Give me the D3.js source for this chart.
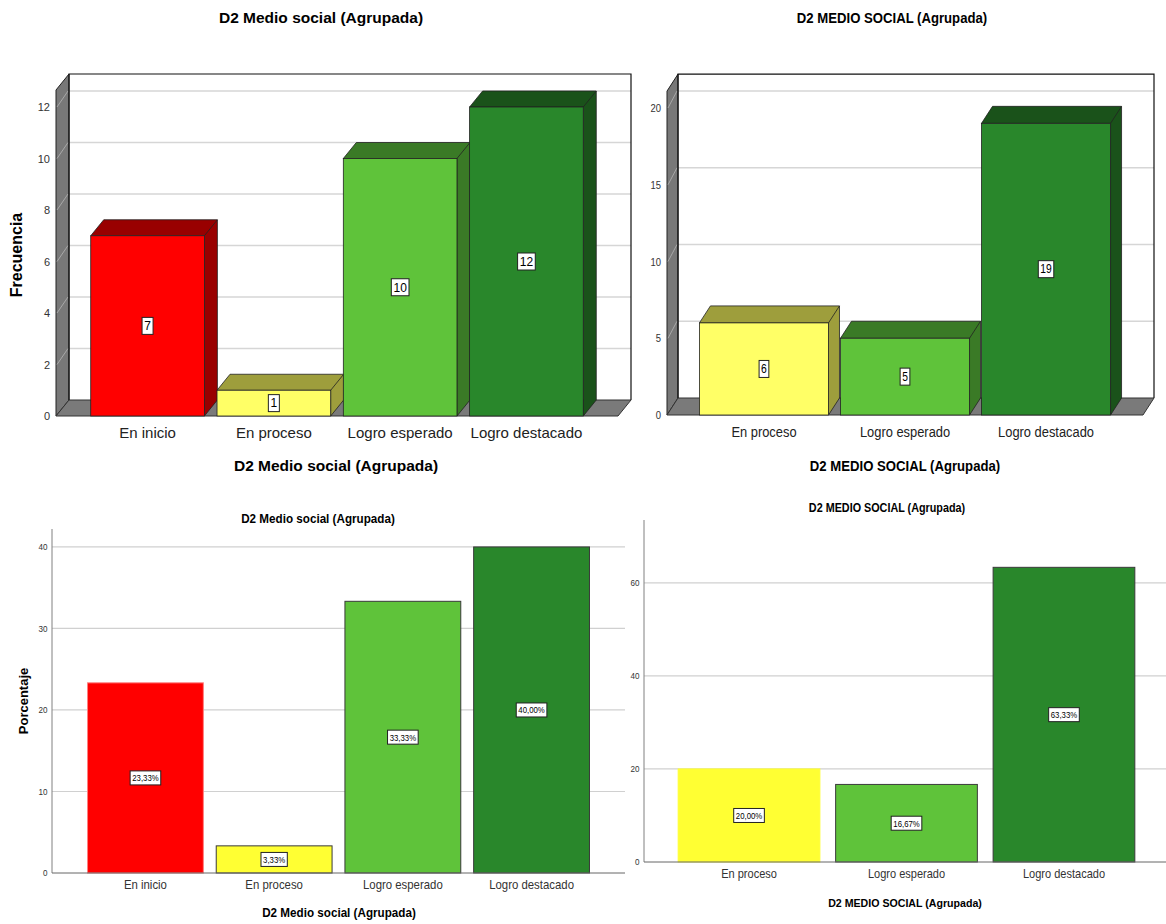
<!DOCTYPE html>
<html>
<head>
<meta charset="utf-8">
<script src="https://cdn.jsdelivr.net/npm/d3@7"></script>
<style>
body { margin: 0; background: #fff; }
text { font-family: "Liberation Sans", Arial, sans-serif; }
</style>
</head>
<body>
<svg width="1166" height="924"></svg>
<script>
// data
var catsA = ["En inicio", "En proceso", "Logro esperado", "Logro destacado"];
var catsB = ["En proceso", "Logro esperado", "Logro destacado"];
var freqA = [7, 1, 10, 12];
var freqB = [6, 5, 19];
var pctA = [23.33, 3.33, 33.33, 40.00];
var pctB = [20.00, 16.67, 63.33];
var ticksFreqA = [0, 2, 4, 6, 8, 10, 12];
var ticksFreqB = [0, 5, 10, 15, 20];
var ticksPctA = [0, 10, 20, 30, 40];
var ticksPctB = [0, 20, 40, 60];
var titleA = "D2 Medio social (Agrupada)";
var titleB = "D2 MEDIO SOCIAL (Agrupada)";

var front = {"En inicio": "#ff0000", "En proceso": "#ffff66", "Logro esperado": "#5fc33a", "Logro destacado": "#29872b"};
var flat = {"En inicio": "#ff0000", "En proceso": "#ffff33", "Logro esperado": "#5fc33a", "Logro destacado": "#29872b"};
var dark = {"En inicio": "#990000", "En proceso": "#9e9e3c", "Logro esperado": "#3a7a26", "Logro destacado": "#1a521a"};

var svg = d3.select("svg");
var line = d3.line();
var fmt = function(v) { return d3.format(".2f")(v).replace(".", ",") + "%"; };

function label(g, x, y, s, size, sx, h) {
  var t = g.append("text")
    .attr("transform", "translate(" + x + "," + y + ") scale(" + sx + ",1)")
    .attr("text-anchor", "middle").attr("dy", "0.36em")
    .attr("font-size", size).attr("fill", "#000").text(s);
  var w = t.node().getBBox().width * sx + 4;
  g.insert("rect", function() { return t.node(); })
    .attr("x", x - w / 2).attr("y", y - h / 2).attr("width", w).attr("height", h)
    .attr("fill", "#fff").attr("stroke", "#222").attr("stroke-width", 1);
}

function title(x, y, s, size, sx, rot) {
  svg.append("text")
    .attr("transform", "translate(" + x + "," + y + ")" + (rot ? " rotate(-90)" : "") + " scale(" + sx + ",1)")
    .attr("text-anchor", "middle").attr("dy", "0.36em")
    .attr("font-size", size).attr("font-weight", "bold").attr("fill", "#000").text(s);
}

function bars3d(o) {
  var g = svg.append("g");
  var x = d3.scaleBand().domain(o.cats).range([o.left, o.right]).paddingInner(o.pi).paddingOuter(o.po);
  var y = d3.scaleLinear().domain([0, o.top]).range([o.base, o.base - o.top * o.unit]);
  var dx = o.dx, dy = o.dy, yTop = y(o.top), bw = x.bandwidth();

  g.append("rect").attr("x", o.left + dx).attr("y", yTop - dy)
    .attr("width", o.right - o.left).attr("height", o.base - yTop).attr("fill", "#fff");
  g.selectAll(".gb").data(o.ticks.filter(function(d) { return d > 0; })).join("line")
    .attr("x1", o.left + dx).attr("x2", o.right + dx)
    .attr("y1", function(d) { return y(d) - dy; }).attr("y2", function(d) { return y(d) - dy; })
    .attr("stroke", "#d6d6d6").attr("stroke-width", 1.5);

  // left wall
  g.append("path").attr("d", line([[o.left, o.base], [o.left, yTop], [o.left + dx, yTop - dy], [o.left + dx, o.base - dy]]) + "Z")
    .attr("fill", "#787878").attr("stroke", "#222").attr("stroke-width", 1);
  g.selectAll(".gw").data(o.ticks.filter(function(d) { return d > 0; })).join("line")
    .attr("x1", o.left + 1).attr("x2", o.left + dx - 1)
    .attr("y1", function(d) { return y(d); }).attr("y2", function(d) { return y(d) - dy; })
    .attr("stroke", "#a8a8a8").attr("stroke-width", 1);

  // floor
  g.append("path").attr("d", line([[o.left, o.base], [o.right, o.base], [o.right + dx, o.base - dy], [o.left + dx, o.base - dy]]) + "Z")
    .attr("fill", "#7a7a7a").attr("stroke", "#333").attr("stroke-width", 1);

  // back wall outline
  g.append("path").attr("d", "M" + (o.left + dx) + "," + (o.base - dy) + "V" + (yTop - dy) + "H" + (o.right + dx) + "V" + (o.base - dy))
    .attr("fill", "none").attr("stroke", "#111").attr("stroke-width", 1.2);

  var bars = g.selectAll(".bar").data(o.vals).join("g");
  bars.append("path").attr("d", function(d, i) {
      var x0 = x(o.cats[i]), yv = y(d);
      return line([[x0, yv], [x0 + dx, yv - dy], [x0 + bw + dx, yv - dy], [x0 + bw + dx, o.base - dy], [x0 + bw, o.base], [x0 + bw, yv]]) + "Z";
    })
    .attr("fill", function(d, i) { return dark[o.cats[i]]; }).attr("stroke", "#222").attr("stroke-width", 0.8);
  bars.append("path").attr("d", function(d, i) {
      var x0 = x(o.cats[i]), yv = y(d);
      return "M" + (x0 + bw) + "," + yv + "L" + (x0 + bw + dx) + "," + (yv - dy);
    }).attr("stroke", "#222").attr("stroke-width", 0.8);
  bars.append("rect")
    .attr("x", function(d, i) { return x(o.cats[i]); }).attr("y", function(d) { return y(d); })
    .attr("width", bw).attr("height", function(d) { return o.base - y(d); })
    .attr("fill", function(d, i) { return front[o.cats[i]]; }).attr("stroke", "#222").attr("stroke-width", 0.8);
  o.vals.forEach(function(d, i) {
    label(g, x(o.cats[i]) + bw / 2, (y(d) + o.base) / 2, d, 12, o.sx, 17);
  });

  // axes
  var ya = g.append("g").attr("transform", "translate(" + (o.left - 6) + ",0)")
    .call(d3.axisLeft(y).tickValues(o.ticks).tickSize(0).tickPadding(0));
  ya.select(".domain").remove();
  ya.selectAll("text").attr("font-size", 11).attr("fill", "#333").attr("font-family", null)
    .attr("transform", "scale(" + o.sx + ",1)");
  var xa = g.append("g").attr("transform", "translate(0," + o.base + ")")
    .call(d3.axisBottom(x).tickSize(0).tickPadding(11));
  xa.select(".domain").remove();
  xa.selectAll("text").attr("font-size", 15).attr("fill", "#222").attr("font-family", null)
    .attr("transform", "scale(" + o.sx + ",1)");
}

function bars2d(o) {
  var g = svg.append("g");
  var x = d3.scaleBand().domain(o.cats).range([o.left, o.right]).paddingInner(o.pi).paddingOuter(o.po);
  var y = d3.scaleLinear().domain([0, o.top]).range([o.base, o.yTop]);
  var bw = x.bandwidth();

  g.selectAll(".gl").data(o.ticks.filter(function(d) { return d > 0; })).join("line")
    .attr("x1", o.left).attr("x2", Math.min(o.right, 1166))
    .attr("y1", function(d) { return y(d); }).attr("y2", function(d) { return y(d); })
    .attr("stroke", "#d0d0d0").attr("stroke-width", 1.2);

  g.selectAll(".bar").data(o.vals).join("rect")
    .attr("x", function(d, i) { return x(o.cats[i]); }).attr("y", function(d) { return y(d); })
    .attr("width", bw).attr("height", function(d) { return o.base - y(d); })
    .attr("fill", function(d, i) { return flat[o.cats[i]]; })
    .attr("stroke", function(d, i) { return o.stroke[o.cats[i]] || "#3a3a3a"; }).attr("stroke-width", 1);
  o.vals.forEach(function(d, i) {
    label(g, x(o.cats[i]) + bw / 2, (y(d) + o.base) / 2, fmt(d), 9.5, 0.82, 14);
  });

  var ya = g.append("g").attr("transform", "translate(" + o.left + ",0)")
    .call(d3.axisLeft(y).tickValues(o.ticks).tickSize(0).tickPadding(5));
  ya.select(".domain").attr("stroke", "#808080").attr("d", "M0," + o.base + "V" + o.yTop);
  ya.selectAll("text").attr("font-size", 9).attr("fill", "#333").attr("font-family", null)
    .attr("transform", "scale(0.9,1)");
  var xa = g.append("g").attr("transform", "translate(0," + o.base + ")")
    .call(d3.axisBottom(x).tickSize(0).tickPadding(7));
  xa.select(".domain").attr("stroke", "#666").attr("d", "M" + o.left + ",0H" + Math.min(o.right, 1166));
  xa.selectAll("text").attr("font-size", 12).attr("fill", "#333").attr("font-family", null)
    .attr("transform", "scale(" + o.sx + ",1)");
}

bars3d({cats: catsA, vals: freqA, ticks: ticksFreqA, left: 56, right: 618, base: 416, unit: 25.75, top: 12.66,
  dx: 13, dy: 16, pi: 0.1, po: 0.275, sx: 1});
bars3d({cats: catsB, vals: freqB, ticks: ticksFreqB, left: 667, right: 1143, base: 415, unit: 15.35, top: 21.1,
  dx: 11, dy: 17, pi: 0.085, po: 0.23, sx: 0.86});
bars2d({cats: catsA, vals: pctA, ticks: ticksPctA, left: 52, right: 625, base: 873, yTop: 529, top: 42.2,
  pi: 0.1, po: 0.276, sx: 0.95, stroke: {"En inicio": "#ff8080"}});
bars2d({cats: catsB, vals: pctB, ticks: ticksPctB, left: 644, right: 1169, base: 862, yTop: 520, top: 73.5,
  pi: 0.1, po: 0.217, sx: 0.92, stroke: {"En proceso": "#ffff33"}});

title(321, 17, titleA, 15.5, 1, false);
title(336, 465, titleA, 15.5, 1, false);
title(16, 255, "Frecuencia", 16, 1, true);
title(892, 17, titleB, 15.3, 0.86, false);
title(905, 465, titleB, 15.3, 0.86, false);
title(318, 519, titleA, 12.3, 0.95, false);
title(339, 913, titleA, 12.3, 0.95, false);
title(23, 701, "Porcentaje", 13, 1, true);
title(887, 508, titleB, 12, 0.9, false);
title(905, 903, titleB, 11.8, 0.9, false);
</script>
</body>
</html>
